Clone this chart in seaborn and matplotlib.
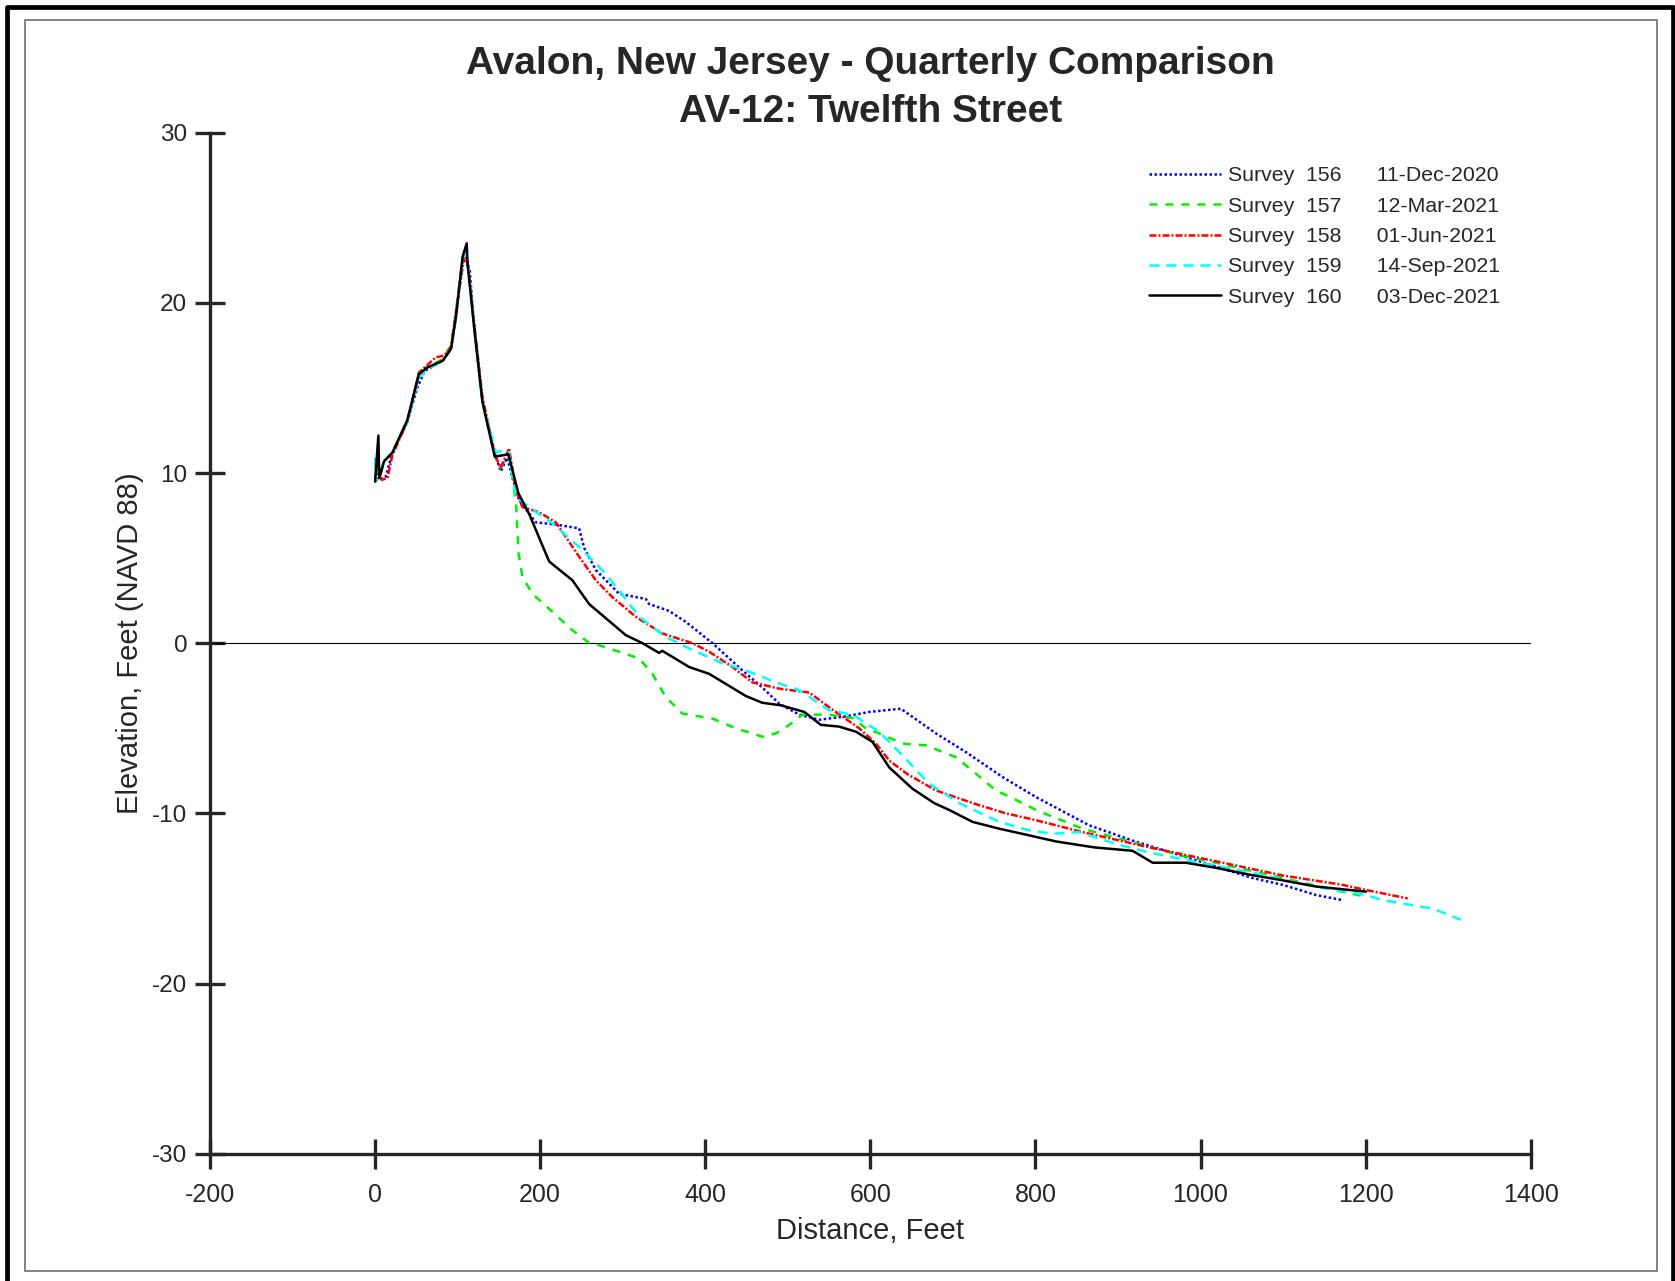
import numpy as np
import pandas as pd
import seaborn as sns
import matplotlib
matplotlib.use('Agg')
import matplotlib.pyplot as plt
from matplotlib.lines import Line2D

# survey profiles, distance (ft) and elevation (ft NAVD 88)
dist_156 = [0, 3, 13, 21, 39, 51, 60, 82, 92, 98, 106, 110, 114.7, 120, 130, 146, 152.3, 160, 166, 174.5,
            194.7, 214.9, 247.2, 253.3, 267.4, 295.7, 328, 332, 356, 376.5, 408.8, 445, 469, 489.6, 513.8,
            538, 570.4, 598.6, 637, 679.5, 715.8, 760, 800.6, 865, 917.7, 978, 1063, 1099.5, 1140, 1172]
elev_156 = [10.6, 9.6, 9.8, 11.2, 13.0, 15.0, 16.0, 16.6, 17.3, 19.2, 22.5, 22.8, 21.9, 18.5, 14.2, 11.0, 10.1,
            10.9, 9.8, 8.4, 7.1, 7.0, 6.75, 5.6, 4.3, 2.9, 2.6, 2.3, 1.9, 1.25, 0.0, -1.6, -2.6, -3.55, -4.2,
            -4.5, -4.3, -4.04, -3.85, -5.3, -6.4, -7.86, -9.04, -10.7, -11.6, -12.5, -13.8, -14.2, -14.8, -15.1]

dist_157 = [0, 3, 6, 11, 21, 39, 53, 63, 82, 92, 98, 106, 110, 113, 120, 130, 145, 152, 161, 165, 171, 173.7,
            178.5, 190.6, 206.8, 239, 259.3, 271.4, 295.7, 320, 336, 352, 372.4, 408.8, 437, 469.4, 485.6,
            501.7, 517.8, 550, 578.4, 594.6, 610.7, 639, 667, 703.7, 723.8, 752, 772, 800.6, 857, 925.8, 978,
            1018.8, 1099.5, 1180, 1202]
elev_157 = [9.8, 10.2, 9.8, 10.7, 11.2, 13.1, 15.7, 16.2, 16.7, 17.5, 19.5, 22.6, 22.9, 22.0, 18.6, 14.2, 11.0,
            10.3, 11.0, 10.4, 8.0, 5.3, 3.9, 2.9, 2.2, 0.76, 0.02, -0.12, -0.5, -0.9, -1.8, -3.16, -4.14, -4.43,
            -5.0, -5.5, -5.3, -4.8, -4.2, -4.2, -4.4, -5.0, -5.3, -5.9, -6.0, -6.7, -7.5, -8.65, -9.1, -9.8,
            -10.9, -11.8, -12.5, -12.9, -13.8, -14.7, -14.9]

dist_158 = [3, 8, 15, 21, 39, 53, 73.5, 83.6, 92, 98, 108, 113, 120, 130, 145, 152, 162.4, 170.5, 178.5, 198.7,
            219, 235, 247, 267.4, 287.6, 316, 348, 384.5, 404.7, 433, 457, 489.6, 526, 554, 586.5, 606.7, 623,
            645, 679.5, 724, 764.3, 800.6, 857, 938, 1026.8, 1099.5, 1172, 1200, 1251]
elev_158 = [10.5, 9.6, 9.7, 11.06, 13.0, 15.9, 16.8, 16.9, 17.4, 19.5, 22.7, 22.1, 18.8, 14.5, 11.1, 10.3, 11.45,
            9.0, 8.0, 7.7, 7.1, 5.96, 5.1, 3.7, 2.7, 1.55, 0.57, 0.0, -0.5, -1.4, -2.3, -2.67, -2.9, -3.9, -5.0,
            -5.9, -6.9, -7.7, -8.65, -9.4, -10.0, -10.4, -11.1, -12.0, -12.9, -13.65, -14.2, -14.5, -15.0]

dist_159 = [0, 1, 5, 11, 21, 39, 53, 63, 82, 92, 98, 106, 110, 113, 120, 130, 146, 162, 170.5, 186.6, 214.9,
            247, 271.4, 295.7, 320, 352, 384.5, 416.9, 449, 489.6, 513.8, 550, 578.4, 610.7, 639, 671, 707.7,
            756, 792.5, 820.8, 853, 897.6, 938, 978, 1059, 1140, 1200, 1220.7, 1281.5, 1315.7]
elev_159 = [10.9, 9.5, 10.0, 10.7, 11.2, 13.0, 15.6, 16.1, 16.6, 17.3, 19.2, 22.6, 22.9, 22.1, 18.6, 14.2, 11.25,
            11.3, 8.6, 8.0, 7.04, 5.66, 4.5, 3.1, 1.55, 0.37, -0.4, -1.1, -1.6, -2.37, -2.76, -3.94, -4.2, -5.2,
            -6.6, -8.25, -9.4, -10.5, -11.0, -11.2, -11.1, -11.8, -12.3, -12.7, -13.45, -14.3, -14.8, -15.1,
            -15.6, -16.25]

dist_160 = [0, 4, 5, 11, 21, 39, 53, 63, 82, 92, 98, 106, 111, 112, 120, 130, 145, 161.5, 173.7, 186.6, 210.9,
            239, 259.3, 303.8, 324, 344, 348, 380.5, 404.7, 449, 469, 491.6, 520, 540, 562, 582.5, 602.6, 622.9,
            651, 677.4, 695.6, 723.8, 756, 788.5, 824.9, 871.3, 917.7, 942, 982, 1018.8, 1059, 1095.5, 1140,
            1180, 1200.5]
elev_160 = [9.5, 12.2, 9.7, 10.7, 11.2, 13.1, 15.8, 16.2, 16.6, 17.3, 19.2, 22.7, 23.5, 22.3, 18.6, 14.2, 10.96,
            11.1, 8.8, 7.6, 4.8, 3.7, 2.3, 0.47, 0.0, -0.57, -0.45, -1.4, -1.8, -3.1, -3.5, -3.65, -4.04, -4.8,
            -4.9, -5.2, -5.8, -7.3, -8.55, -9.4, -9.8, -10.5, -10.9, -11.25, -11.65, -12.0, -12.2, -12.9, -12.9,
            -13.2, -13.6, -13.9, -14.3, -14.5, -14.6]

labels = ['Survey  156      11-Dec-2020',
          'Survey  157      12-Mar-2021',
          'Survey  158      01-Jun-2021',
          'Survey  159      14-Sep-2021',
          'Survey  160      03-Dec-2021']

sns.set_theme(style='white')
plt.rcParams['font.family'] = ['Liberation Sans', 'DejaVu Sans']
plt.rcParams['axes.unicode_minus'] = False

fig = plt.figure(figsize=(16.75, 12.81), dpi=100)
ax = fig.add_axes([0.12537, 0.09938, 0.78848, 0.79703])

series = [
    (dist_156, elev_156, '#0000FF', (0, (1, 1))),
    (dist_157, elev_157, '#00EE00', (0, (3.2, 3.2))),
    (dist_158, elev_158, '#FF0000', (0, (2.8, 0.8, 0.8, 0.8))),
    (dist_159, elev_159, '#00FFFF', (0, (4, 2.8))),
    (dist_160, elev_160, '#000000', '-'),
]

ax.axhline(0, color='black', lw=0.8, zorder=1)
for (d, e, c, ls), lab in zip(series, labels):
    df = pd.DataFrame({'dist': d, 'elev': e})
    sns.lineplot(data=df, x='dist', y='elev', sort=False, estimator=None, color=c,
                 linestyle=ls, lw=1.8, label=lab, ax=ax)

ax.set_xlim(-200, 1400)
ax.set_ylim(-30, 30)
ax.set_xticks(np.arange(-200, 1401, 200))
ax.set_yticks(np.arange(-30, 31, 10))

for s in ['top', 'right']:
    ax.spines[s].set_visible(False)
for s in ['left', 'bottom']:
    ax.spines[s].set_color('#262626')
    ax.spines[s].set_linewidth(2.4)
ax.tick_params(bottom=True, left=True, direction='inout', length=21.6, width=2.4, color='#262626',
               labelsize=17.5, labelcolor='#262626', pad=5.5)
ax.tick_params(axis='x', labelsize=18, pad=10.5)

ax.set_xlabel('Distance, Feet', fontsize=21, color='#262626')
ax.set_ylabel('Elevation, Feet (NAVD 88)', fontsize=21, color='#262626')
ax.xaxis.set_label_coords(0.5, -0.062)
ax.yaxis.set_label_coords(-0.05, 0.5)

ax.set_title('Avalon, New Jersey - Quarterly Comparison\nAV-12: Twelfth Street',
             fontsize=28, fontweight='bold', pad=8, linespacing=1.4)

leg = ax.legend(loc='upper left', bbox_to_anchor=(0.711, 0.967), frameon=False,
                fontsize=15.3, handlelength=3.4, handletextpad=0.34, labelspacing=0.535,
                borderpad=0, borderaxespad=0)

# figure frames
fig.add_artist(Line2D([6.7 / 1675, 6.7 / 1675, 1672.5 / 1675, 1672.5 / 1675],
                      [0, 1 - 6.7 / 1281, 1 - 6.7 / 1281, 0],
                      transform=fig.transFigure, color='black', lw=3.4))
fig.add_artist(plt.Rectangle((25 / 1675, 1 - 1271 / 1281), (1656.7 - 25) / 1675, (1271 - 20) / 1281,
                             transform=fig.transFigure, fill=False, edgecolor='#6e6e6e', lw=1.2))

fig.savefig('out.png', dpi=100)
